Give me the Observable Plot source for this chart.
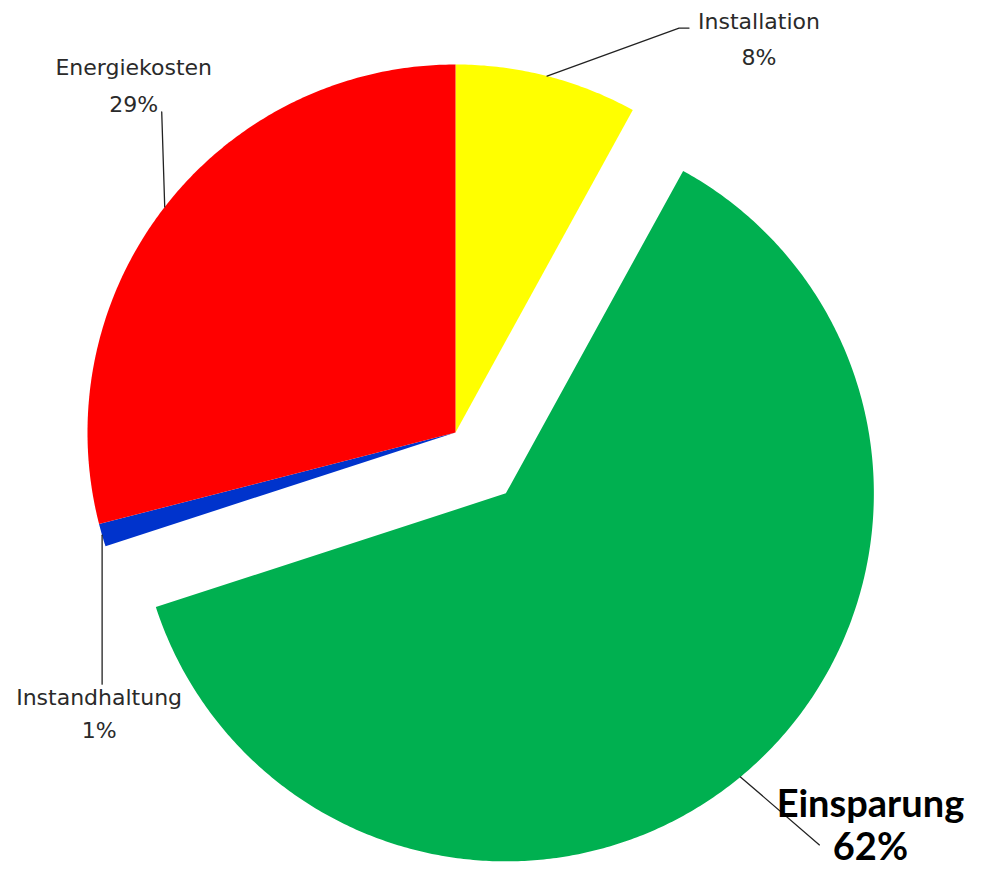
<!DOCTYPE html>
<html><head><meta charset="utf-8">
<script src="https://cdn.jsdelivr.net/npm/d3@7"></script>
<script src="https://cdn.jsdelivr.net/npm/@observablehq/plot@0.6"></script>
<style>body{margin:0;background:#fff}</style>
</head><body><div id="chart"></div>
<script>
// ---- data ----
const categories = ["Installation", "Einsparung", "Instandhaltung", "Energiekosten"];
const shares = [8, 62, 1, 29];
const colors = ["#FFFF00", "#00B050", "#0033CC", "#FF0000"];
const explodedCategory = "Einsparung";

// ---- layout ----
const W = 989, H = 869, R = 368, cx = 455, cy = 432, explode = 79;
const labelLayout = {
  Installation:   {leader: [[0,0],[132,48],[142,48]], pos: [212,11],   size: 22, lh: 1.64},
  Einsparung:     {leader: [[0,0],[79,-68]],          pos: [130,-83],  size: 38, lh: 1.13},
  Instandhaltung: {leader: [[0,0],[0,-149]],          pos: [-3,-203],  size: 22, lh: 1.5},
  Energiekosten:  {leader: [[0,0],[-3,95]],           pos: [-31,95],   size: 22, lh: 1.68}
};

const rows = categories.map((name, i) => ({name, share: shares[i]}));
const arcs = d3.pie().sort(null).value(d => d.share)(rows);

const slicePts = [], leaderPts = [], labels = [];
for (const a of arcs) {
  const name = a.data.name;
  const mid = (a.startAngle + a.endAngle) / 2;
  const off = name === explodedCategory ? explode : 0;
  const ox = off * Math.sin(mid), oy = off * Math.cos(mid);
  slicePts.push({name, x: ox, y: oy});
  const n = Math.max(2, Math.ceil((a.endAngle - a.startAngle) / (Math.PI / 360)) + 1);
  for (let k = 0; k < n; k++) {
    const t = a.startAngle + (a.endAngle - a.startAngle) * k / (n - 1);
    slicePts.push({name, x: ox + R * Math.sin(t), y: oy + R * Math.cos(t)});
  }
  slicePts.push({name, x: ox, y: oy});
  const ax = ox + R * Math.sin(mid), ay = oy + R * Math.cos(mid);
  const L = labelLayout[name];
  for (const [dx, dy] of L.leader) leaderPts.push({name, x: ax + dx, y: ay + dy});
  labels.push({name, text: `${name}\n${a.data.share}%`, x: ax + L.pos[0], y: ay + L.pos[1]});
}

const textMarks = labels.map(d => {
  const L = labelLayout[d.name];
  const isBig = d.name === explodedCategory;
  return Plot.text([d], {
    x: "x", y: "y", text: "text", lineAnchor: "bottom",
    fontSize: L.size, lineHeight: L.lh,
    fontWeight: isBig ? "bold" : "normal",
    fontFamily: isBig ? "Lato" : "DejaVu Sans",
    fill: isBig ? "#000" : "#2a2a2a"
  });
});

const chart = Plot.plot({
  width: W, height: H,
  margin: 0,
  x: {domain: [-cx, W - cx], axis: null},
  y: {domain: [-(H - cy), cy], axis: null},
  color: {domain: categories, range: colors},
  marks: [
    Plot.line(slicePts, {x: "x", y: "y", z: "name", fill: "name", stroke: "none", curve: "linear"}),
    Plot.line(leaderPts, {x: "x", y: "y", z: "name", stroke: "#222", strokeWidth: 1.3, curve: "linear"}),
    ...textMarks
  ]
});
document.getElementById("chart").append(chart);
</script>
</body></html>
